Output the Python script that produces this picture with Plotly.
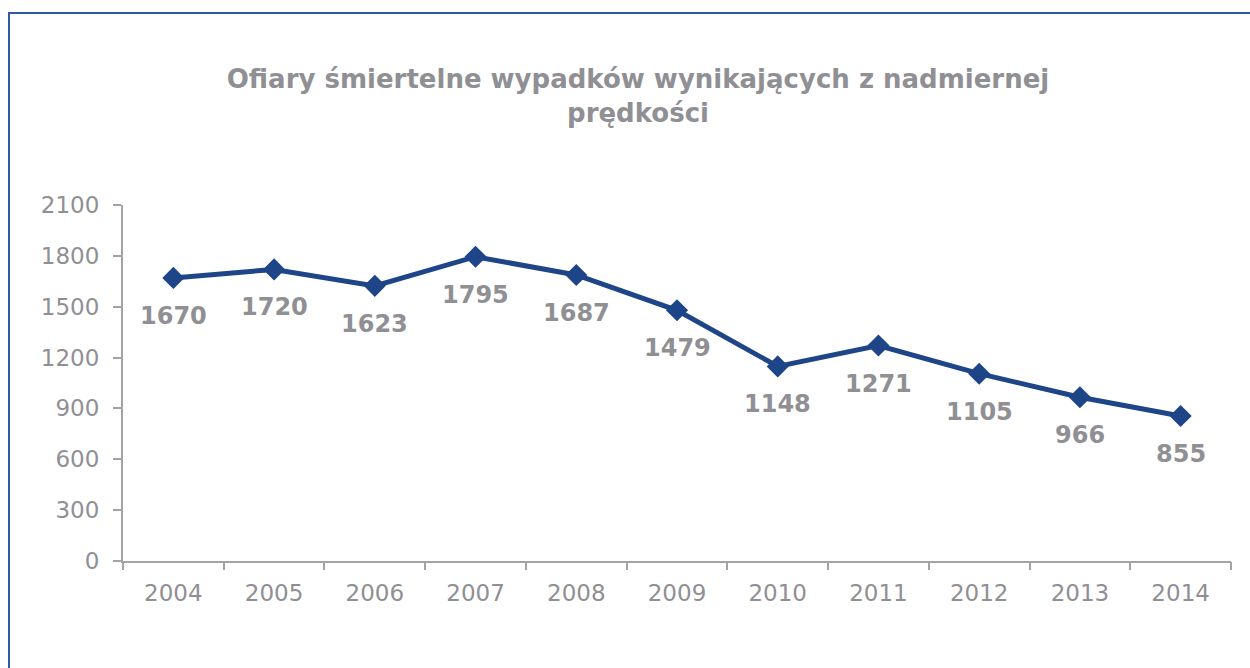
import plotly.graph_objects as go

years = ["2004", "2005", "2006", "2007", "2008", "2009", "2010", "2011", "2012", "2013", "2014"]
deaths = [1670, 1720, 1623, 1795, 1687, 1479, 1148, 1271, 1105, 966, 855]
y_ticks = [0, 300, 600, 900, 1200, 1500, 1800, 2100]
title_text = "Ofiary śmiertelne wypadków wynikających z nadmiernej<br>prędkości"

GREY = "#8f8f94"
AXIS = "#a3a3a3"
BLUE = "#1d4588"
FONT = "DejaVu Sans"

W, H = 1250, 668
L, R, T, B = 123, 19, 205, 107
pw, ph = W - L - R, H - T - B

fig = go.Figure()
fig.add_trace(go.Scatter(
    x=list(range(len(years))), y=deaths, mode="lines+markers",
    line=dict(color=BLUE, width=5),
    marker=dict(symbol="diamond", size=17, color=BLUE),
    hoverinfo="skip", showlegend=False,
))

for i, v in enumerate(deaths):
    fig.add_annotation(x=i, y=v, xref="x", yref="y", text=str(v), showarrow=False,
                       yshift=-38, font=dict(family=FONT, size=24, color=GREY, weight="bold"))

def px_x(x):
    return (x - L) / pw

def px_y(y):
    return (H - B - y) / ph

fig.add_shape(type="rect", xref="paper", yref="paper",
              x0=px_x(9), x1=px_x(1300), y0=px_y(720), y1=px_y(13),
              line=dict(color="#2f58a6", width=2), fillcolor="rgba(0,0,0,0)", layer="above")

fig.update_layout(
    width=W, height=H,
    margin=dict(l=L, r=R, t=T, b=B),
    paper_bgcolor="white", plot_bgcolor="white",
    title=dict(text=title_text, x=638 / W, xanchor="center", y=1 - 88 / H, yanchor="top",
               font=dict(family=FONT, size=26, color=GREY, weight="bold")),
    xaxis=dict(type="linear", range=[-0.5, 10.5],
               tickvals=list(range(len(years))), ticktext=years,
               showline=True, linecolor=AXIS, linewidth=2,
               ticks="", showgrid=False, zeroline=False,
               tickfont=dict(family=FONT, size=23, color=GREY), ticklabelstandoff=10),
    xaxis2=dict(overlaying="x", matches="x", anchor="y", side="bottom",
                tickvals=[i - 0.5 for i in range(len(years) + 1)], showticklabels=False,
                ticks="outside", ticklen=8, tickcolor=AXIS, tickwidth=2,
                showgrid=False, zeroline=False, showline=False),
    yaxis=dict(range=[0, 2100], tickvals=y_ticks,
               showline=True, linecolor=AXIS, linewidth=2,
               ticks="outside", ticklen=8, tickcolor=AXIS, tickwidth=2,
               showgrid=False, zeroline=False,
               tickfont=dict(family=FONT, size=23, color=GREY), ticklabelstandoff=9),
)
fig.add_trace(go.Scatter(x=[None], y=[None], xaxis="x2", showlegend=False, hoverinfo="skip"))

fig.write_html("out.html", config={"displayModeBar": False},
               post_script="document.body.style.margin='0px';")
